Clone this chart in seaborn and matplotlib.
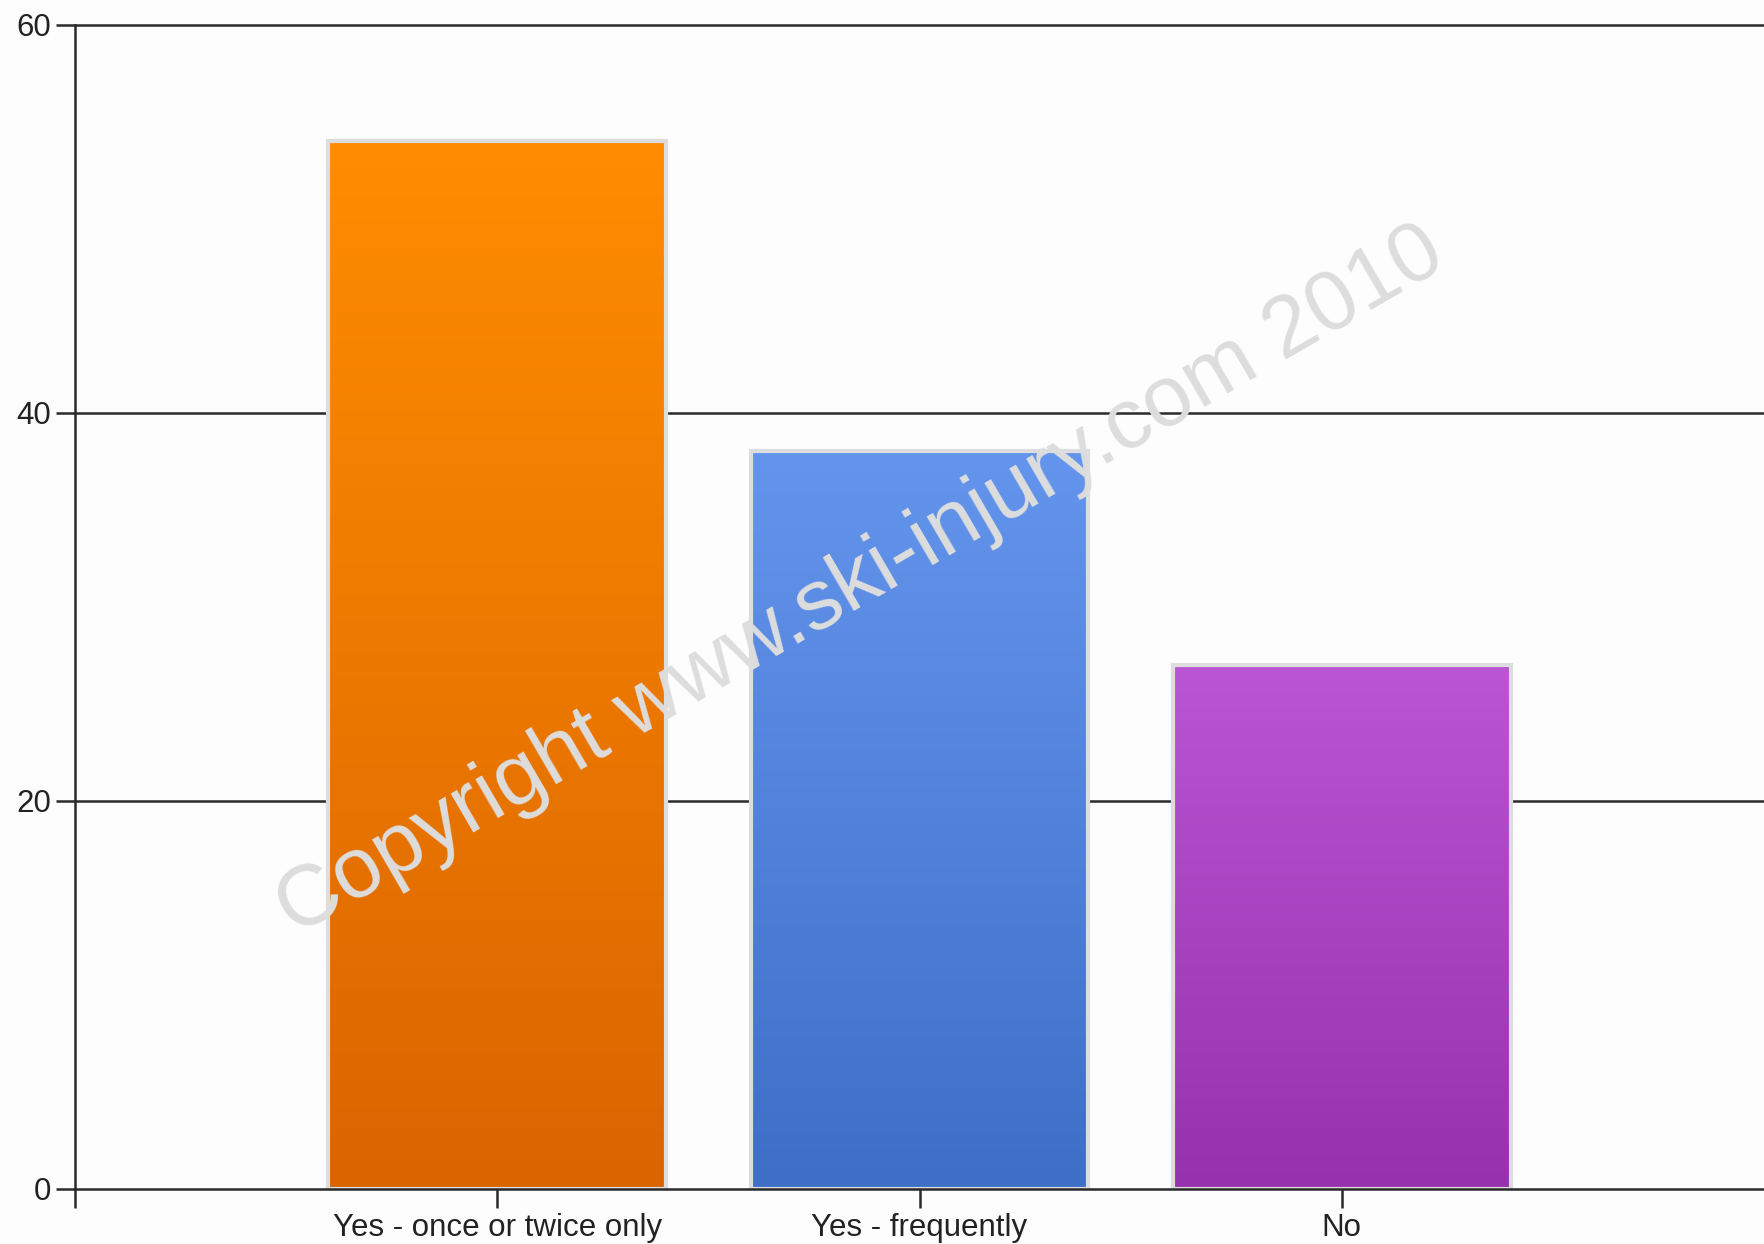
import numpy as np
import matplotlib
matplotlib.use("Agg")
import matplotlib.pyplot as plt
from matplotlib.colors import to_rgb
import seaborn as sns

categories = ["Yes - once or twice only", "Yes - frequently", "No"]
values = [54, 38, 27]
top_colors = ["#FF8C00", "#6495ED", "#BA55D3"]
bottom_colors = ["#DA6500", "#3F6EC7", "#9632AD"]
y_ticks = [0, 20, 40, 60]

sns.set_style("white")
plt.rcParams['font.family'] = ['Liberation Sans', 'DejaVu Sans']

fig = plt.figure(figsize=(17.64, 12.44), dpi=100)
fig.patch.set_facecolor("#FDFDFD")
ax = fig.add_axes([75 / 1764, 1 - 1189 / 1244, 1 - 75 / 1764, (1189 - 24.5) / 1244])
ax.set_facecolor("#FDFDFD")

sns.barplot(x=categories, y=values, hue=categories, palette=top_colors,
            width=0.8, legend=False, ax=ax)

# gradient fill for each bar, border drawn on top
for patch, c_top, c_bot in zip(ax.patches, top_colors, bottom_colors):
    x0, y0 = patch.get_x(), patch.get_y()
    w, h = patch.get_width(), patch.get_height()
    t = np.linspace(0, 1, 256)[:, None]
    grad = (1 - t) * np.array(to_rgb(c_top)) + t * np.array(to_rgb(c_bot))
    grad = grad[:, None, :]
    ax.imshow(grad, extent=[x0, x0 + w, y0, y0 + h], aspect="auto",
              origin="upper", zorder=2, interpolation="bilinear")
    patch.set_facecolor("none")
    patch.set_edgecolor("#DDDDDD")
    patch.set_linewidth(3)
    patch.set_zorder(3)

ax.set_xlim(-1, 3)
ax.set_ylim(0, 60)
ax.set_yticks(y_ticks)
ax.set_xticks([-1, 0, 1, 2])
ax.set_xticklabels([""] + categories)

for yv in y_ticks[1:]:
    ax.axhline(yv, color="#2A2A2A", linewidth=1.8, zorder=1, clip_on=False)

for side in ["top", "right"]:
    ax.spines[side].set_visible(False)
for side in ["left", "bottom"]:
    ax.spines[side].set_color("#2A2A2A")
    ax.spines[side].set_linewidth(1.8)
    ax.spines[side].set_zorder(4)

ax.tick_params(axis="both", direction="out", length=14, width=1.8,
               color="#2A2A2A", labelcolor="#222222", labelsize=22.5)
ax.tick_params(axis="x", pad=3, bottom=True)
ax.tick_params(axis="y", pad=3, left=True)
ax.set_xlabel("")
ax.set_ylabel("")

# watermark
fig.text(861 / 1764, 1 - 582 / 1244, "Copyright www.ski-injury.com 2010",
         rotation=30.2, color="#DDDDDD", fontsize=62, ha="center", va="center",
         zorder=10)

fig.savefig("out.png", dpi=100, facecolor=fig.get_facecolor())
